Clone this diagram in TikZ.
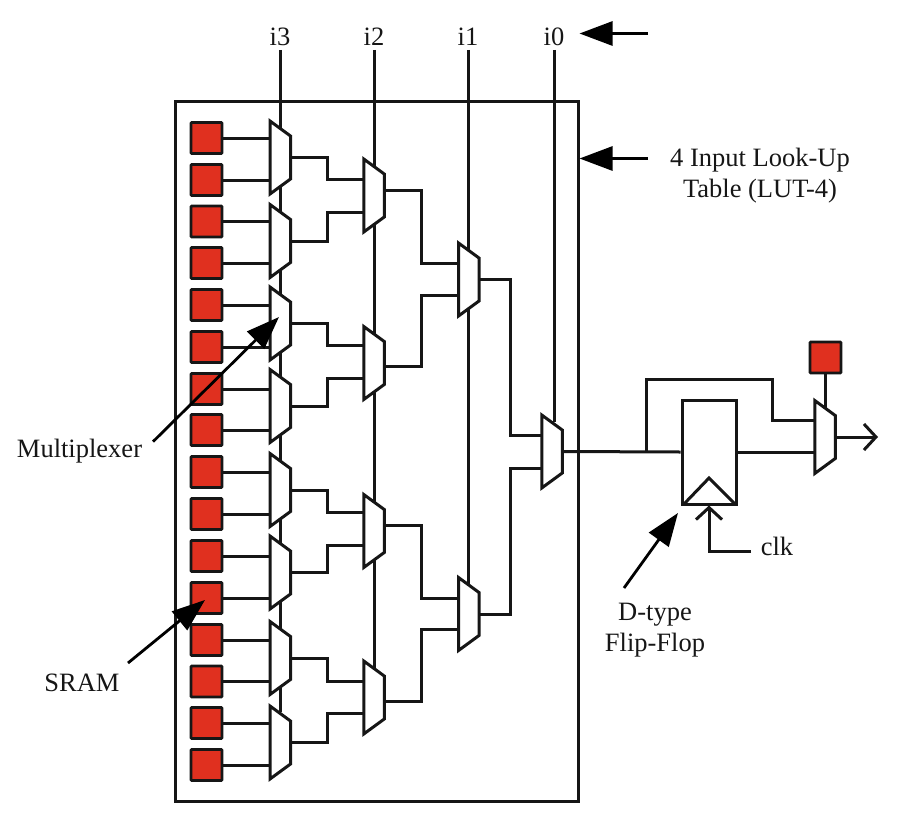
\documentclass[tikz,border=0pt]{standalone}
\usepackage{fontspec}
\setmainfont{Liberation Serif}
\usetikzlibrary{arrows.meta}
\definecolor{sramred}{HTML}{E0301F}
\definecolor{ink}{HTML}{161616}
\tikzset{
  wire/.style={draw=ink,line width=3pt},
  sramcell/.style={draw=ink,line width=2.8pt,fill=sramred,minimum size=31pt,inner sep=0pt,rounded corners=0.8pt},
  muxbox/.style={minimum width=20.5pt,minimum height=73pt,inner sep=0pt,outer sep=0pt},
  muxbody/.style={draw=ink,line width=3pt,fill=white,line join=miter},
  txt/.style={text=ink,font=\fontsize{26.5}{31}\selectfont,inner sep=0pt,align=center},
  seltxt/.style={txt,outer sep=4pt},
  callout/.style={draw=black,line width=2.8pt,-{Triangle[length=33pt,width=24pt]}},
  opentip/.style={wire,-{Straight Barb[length=12pt,width=26pt,line width=3pt]}}
}
\newcommand\muxat[3]{%
  \node[muxbox] (#1) at (#2,#3) {};
  \path[muxbody] (#1.north west) -- ([yshift=-15pt]#1.north east) -- ([yshift=15pt]#1.south east) -- (#1.south west) -- cycle;
}
\begin{document}
\begin{tikzpicture}[x=1pt,y=-1pt]
\useasboundingbox (0,0) rectangle (902,822);
% labels of the select inputs
\node[seltxt] (i3) at (280,37) {i3};
\node[seltxt] (i2) at (374,37) {i2};
\node[seltxt] (i1) at (468,37) {i1};
\node[seltxt] (i0) at (554,37) {i0};
% LUT frame
\node[draw=ink,line width=3pt,minimum width=403pt,minimum height=700.5pt,inner sep=0pt] (lut) at (376.5,451.3) {};
% SRAM cells
\foreach \n/\y in {1/138,2/180,3/221.5,4/263,5/305,6/347,7/389,8/430,9/472,10/514,11/556,12/598,13/640,14/681.5,15/723,16/765}
  \node[sramcell] (s\n) at (206.5,\y) {};
% select lines (behind the muxes)
\coordinate (e3) at (280,712);
\coordinate (e2) at (374,668);
\coordinate (e1) at (468,584);
\coordinate (e0) at (554,422);
\draw[wire] (i3) -- (e3);
\draw[wire] (i2) -- (e2);
\draw[wire] (i1) -- (e1);
\draw[wire] (i0) -- (e0);
% muxes
\foreach \n/\y in {1/157.5,2/241,3/323.5,4/406,5/490,6/572.5,7/658,8/742.5}
  {\muxat{a\n}{280.25}{\y}}
\foreach \n/\y in {1/195.5,2/363,3/531,4/697.5}
  {\muxat{b\n}{374}{\y}}
\foreach \n/\y in {1/279.5,2/614}
  {\muxat{c\n}{468.75}{\y}}
\muxat{d1}{552}{451.5}
\muxat{o1}{825}{437}
% SRAM to first level
\foreach \n/\m in {1/1,2/1,3/2,4/2,5/3,6/3,7/4,8/4,9/5,10/5,11/6,12/6,13/7,14/7,15/8,16/8}
  \draw[wire] (s\n.east) -- (a\m.west |- s\n.east);
% first to second level
\foreach \pa/\pb/\ya/\yb in {1/1/157.5/179,2/1/241/212,3/2/323.5/345.5,4/2/406/378,5/3/490/512,6/3/572.5/545,7/4/658/681,8/4/742.5/713}
  \draw[wire] (a\pa.east) -- (327,\ya) -- (327,\yb) -- (b\pb.west |- 0,\yb);
% second to third level
\foreach \pb/\pc/\yo/\yi in {1/1/190/263,2/1/366/295,3/2/525/598,4/2/701/629}
  \draw[wire] (b\pb.east |- 0,\yo) -- (421.5,\yo) -- (421.5,\yi) -- (c\pc.west |- 0,\yi);
% third to fourth level
\draw[wire] (c1.east) -- (510,279.5) -- (510,435) -- (d1.west |- 0,435);
\draw[wire] (c2.east) -- (510,614) -- (510,468) -- (d1.west |- 0,468);
% flip-flop
\node[draw=ink,line width=3pt,minimum width=54pt,minimum height=104pt,inner sep=0pt] (ff) at (709,452) {};
\coordinate (ckl) at (684,504);
\coordinate (ckt) at (709,478);
\coordinate (ckr) at (735,504);
\draw[wire] (ckl) -- (ckt) -- (ckr);
\coordinate (fb) at (646,451.5);
\draw[wire] (d1.east) -- (ff.west);
\draw[wire] (fb) -- (646,379) -- (772.7,379) -- (772.7,420) -- (o1.west |- 0,420);
\draw[wire] (ff.east) -- (o1.west |- ff.east);
% output mux
\node[sramcell] (s0) at (825.5,357.5) {};
\draw[wire] (s0.south) -- (825.5,408);
\coordinate (out) at (878,437);
\draw[opentip] (o1.east) -- (out);
% clock
\node[txt] (clk) at (777,546) {clk};
\coordinate (clkb) at (709,551.5);
\draw[opentip] (751,551.5) -- (clkb) -- (ff.south);
% callouts
\node[txt] (mt) at (79.5,451) {Multiplexer};
\node[txt] (st) at (82,683) {SRAM};
\node[txt] (dt) at (655,630.5) {D-type\\Flip-Flop};
\node[txt] (lt) at (760,175.5) {4 Input Look-Up\\Table (LUT-4)};
\coordinate (tm) at (279,317);
\coordinate (tmf) at (153,441.7);
\coordinate (tsf) at (128,663);
\coordinate (tdf) at (624,588);
\coordinate (ts) at (205,600);
\coordinate (td) at (678,513);
\coordinate (tl) at (579.5,158.5);
\coordinate (ti) at (579.5,33.5);
\coordinate (fl) at (648,158.5);
\coordinate (fi) at (648,33.5);
\draw[callout] (tmf) -- (tm);
\draw[callout] (tsf) -- (ts);
\draw[callout] (tdf) -- (td);
\draw[callout] (fl) -- (tl);
\draw[callout] (fi) -- (ti);
\end{tikzpicture}
\end{document}
